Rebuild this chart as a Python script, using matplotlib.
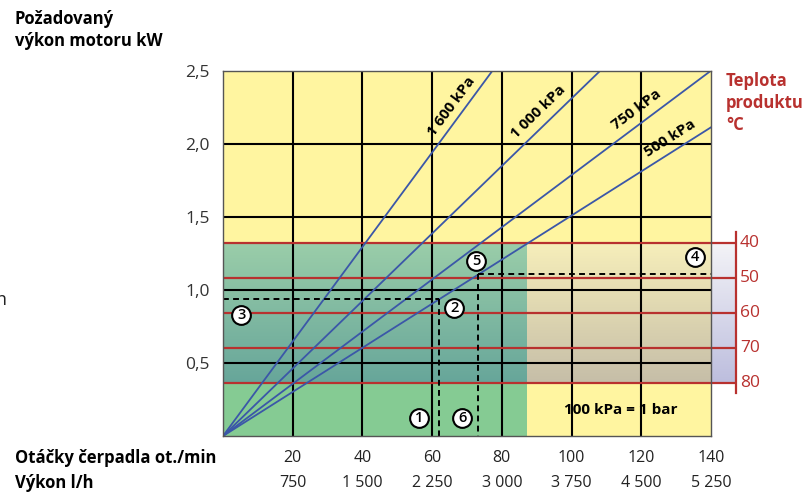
import numpy as np
import matplotlib
matplotlib.use("Agg")
import matplotlib.pyplot as plt
from matplotlib.colors import to_rgb
from matplotlib.transforms import blended_transform_factory

plt.rcParams['font.family'] = ['Open Sans', 'DejaVu Sans']

# ---- data ----
rpm_ticks = [20, 40, 60, 80, 100, 120, 140]
flow_labels = ["750", "1 500", "2 250", "3 000", "3 750", "4 500", "5 250"]
power_ticks = [0.5, 1.0, 1.5, 2.0, 2.5]
power_labels = ["0,5", "1,0", "1,5", "2,0", "2,5"]
pressure_labels = ["1 600 kPa", "1 000 kPa", "750 kPa", "500 kPa"]
pressure_slopes = [0.03234, 0.0231, 0.01786, 0.01509]   # kW per ot./min
pressure_label_x = [65.6, 90.4, 118.7, 128.2]
pressure_label_y = [2.253, 2.219, 2.231, 2.037]
temps = [40, 50, 60, 70, 80]
temp_power = [1.322, 1.082, 0.842, 0.603, 0.365]      # power level of each temperature line
green_zone_max_rpm = 87.2
# example reading (dashed lines)
ex1_rpm, ex1_power = 62.0, 0.938
ex2_rpm, ex2_power = 73.2, 1.11
markers_label = ["1", "6", "3", "2", "5", "4"]
markers_x = [56.3, 68.6, 5.2, 66.3, 72.7, 135.4]
markers_y = [0.126, 0.126, 0.827, 0.879, 1.197, 1.226]

XMAX, YMAX = 140, 2.5
TEMP_AXIS_X = 147.2

fig = plt.figure(figsize=(8.05, 4.95), dpi=100)
ax = fig.add_axes([223/805, 1-436/495, (711-223)/805, (436-70.7)/495])
ax.set_xlim(0, XMAX)
ax.set_ylim(0, YMAX)

yellow = "#FFF5A0"
green = "#85CB93"
red = "#B8312F"
blue = "#3B57A8"

ax.set_facecolor(yellow)
ax.fill_between([0, green_zone_max_rpm], 0, temp_power[-1], color=green, zorder=0.5, lw=0)

def gradient(c_top, c_bot, n=64):
    t = np.linspace(0, 1, n)[:, None]
    a, b = np.array(to_rgb(c_top)), np.array(to_rgb(c_bot))
    return (a * (1 - t) + b * t)[:, None, :].repeat(2, axis=1)

band_top, band_bot = temp_power[0], temp_power[-1]
for (x0, x1, ct, cb) in [(0, green_zone_max_rpm, "#9ACDA9", "#67A69A"),
                         (green_zone_max_rpm, XMAX, "#F6EEBA", "#C6BEA8"),
                         (XMAX, TEMP_AXIS_X, "#F3F3F7", "#BDBEDE")]:
    im = ax.imshow(gradient(ct, cb), extent=[x0, x1, band_bot, band_top],
                   aspect='auto', interpolation='bilinear', zorder=1, origin='upper')
    im.set_clip_on(False)

# grid
ax.vlines(rpm_ticks[:-1], 0, YMAX, color="black", lw=1.5, zorder=2)
ax.hlines(power_ticks[:-1], 0, XMAX, color="black", lw=1.5, zorder=2)

# temperature lines
ax.hlines(temp_power, 0, TEMP_AXIS_X, color=red, lw=1.6, zorder=3, clip_on=False)
ax.plot([TEMP_AXIS_X, TEMP_AXIS_X], [1.393, 0.295], color=red, lw=1.6, clip_on=False, zorder=3)
for t, p in zip(temps, temp_power):
    ax.text(148.3, p, str(t), color=red, fontsize=12.5, ha='left', va='center', clip_on=False)

# pressure lines
xx = np.array([0, XMAX])
for s in pressure_slopes:
    ax.plot(xx, s * xx, color=blue, lw=1.3, zorder=4)
for lab, lx, ly, s in zip(pressure_labels, pressure_label_x, pressure_label_y, pressure_slopes):
    ax.text(lx, ly, lab, fontsize=10.8, fontweight='bold', ha='center', va='center',
            rotation=np.degrees(np.arctan(s)), transform_rotates_text=True,
            rotation_mode='anchor', zorder=7)

# dashed example lines
dash = dict(color="black", lw=1.4, ls=(0, (3, 2.2)), zorder=5)
ax.plot([0, ex1_rpm], [ex1_power, ex1_power], **dash)
ax.plot([ex1_rpm, ex1_rpm], [ex1_power, 0], **dash)
ax.plot([ex2_rpm, XMAX], [ex2_power, ex2_power], **dash)
ax.plot([ex2_rpm, ex2_rpm], [ex2_power, 0], **dash)

# circled numbers
ax.plot(markers_x, markers_y, 'o', ms=13.5, mfc='white', mec='black', mew=1.5, zorder=6, ls='none')
for lab, mx, my in zip(markers_label, markers_x, markers_y):
    ax.text(mx, my, lab, ha='center', va='center', fontsize=10.5, fontweight='semibold', zorder=7)

ax.text(114.1, 0.181, "100 kPa = 1 bar", fontsize=11, fontweight='bold', ha='center', va='center', zorder=7)

# axes styling
for sp in ax.spines.values():
    sp.set_color("#555555")
    sp.set_linewidth(1.0)
    sp.set_zorder(8)
ax.set_xticks([])
ax.set_yticks(power_ticks)
ax.set_yticklabels(power_labels, fontsize=12.5, color="#333333")
ax.tick_params(axis='y', length=0, pad=9.5)

# bottom labels
tr = blended_transform_factory(ax.transData, fig.transFigure)
for x, f in zip(rpm_ticks, flow_labels):
    ax.text(x, 1-458/495, str(x), transform=tr, ha='center', va='center', fontsize=11.5, color="#222222", clip_on=False)
    ax.text(x, 1-483/495, f, transform=tr, ha='center', va='center', fontsize=11.5, color="#222222", clip_on=False)
fig.text(15/805, 1-458/495, "Otáčky čerpadla ot./min", fontsize=12, fontweight='bold', ha='left', va='center')
fig.text(15/805, 1-483/495, "Výkon l/h", fontsize=12, fontweight='bold', ha='left', va='center')

fig.text(15/805, 1-10/495, "Požadovaný\nvýkon motoru kW", fontsize=12, fontweight='bold',
         ha='left', va='top', linespacing=1.3)
fig.text(726/805, 1-72/495, "Teplota\nproduktu\n°C", fontsize=12, fontweight='bold', color=red,
         ha='left', va='top', linespacing=1.3)
fig.text(-4/805, 1-300/495, "n", fontsize=13, ha='left', va='center', color="#222222")

fig.savefig("out.png", dpi=100)
